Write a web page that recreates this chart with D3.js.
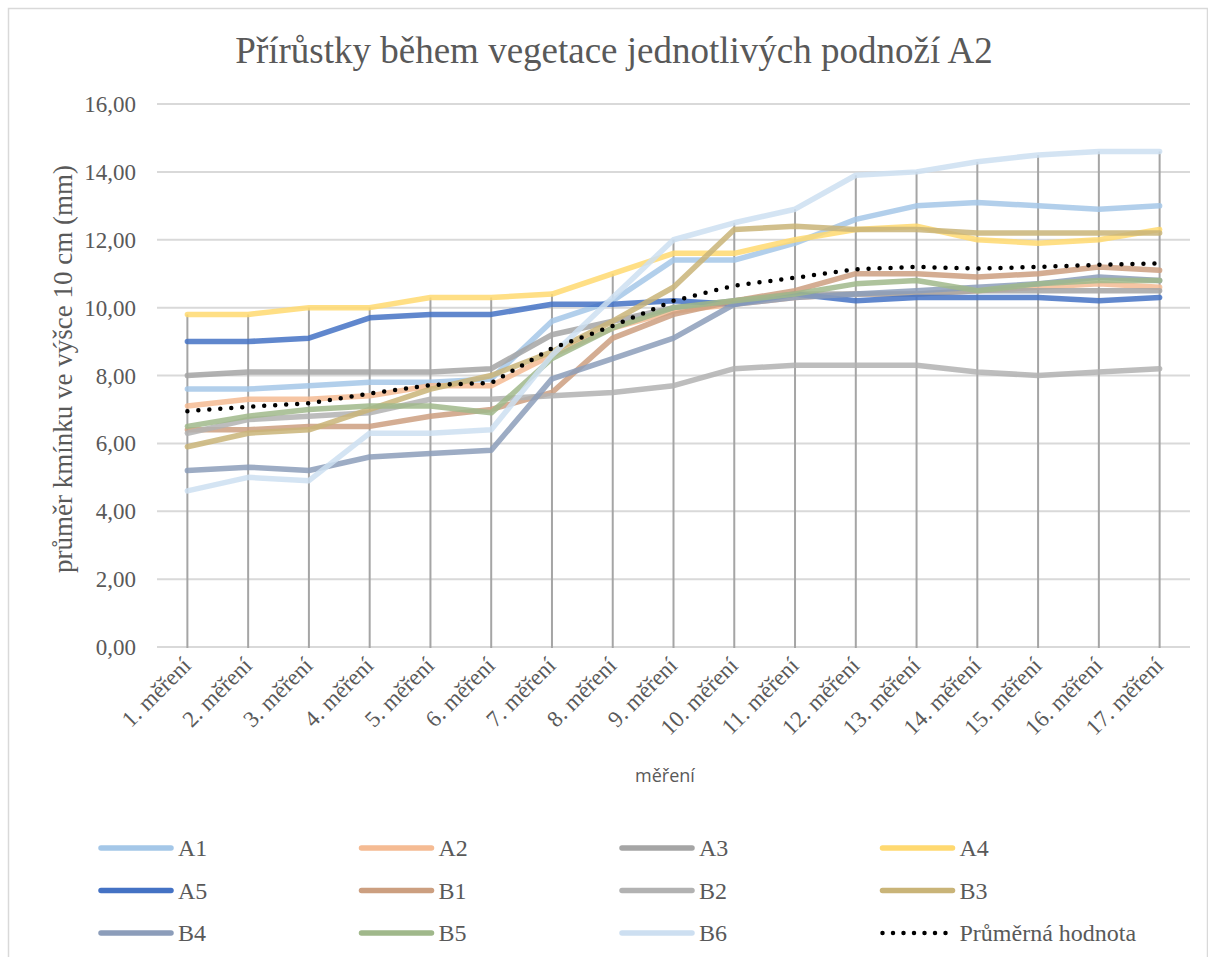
<!DOCTYPE html>
<html>
<head>
<meta charset="utf-8">
<script src="https://cdn.jsdelivr.net/npm/d3@7"></script>
<style>
  body { margin: 0; background: #fff; }
  text { fill: #595959; font-family: "Liberation Serif", "Times New Roman", serif; }
</style>
</head>
<body>
<div id="chart-container"></div>
<script>
'use strict'

var title = 'Přírůstky během vegetace jednotlivých podnoží A2'
var yTitle = 'průměr kmínku ve výšce 10 cm (mm)'
var xTitle = 'měření'

var categories = ['1. měření', '2. měření', '3. měření', '4. měření', '5. měření', '6. měření',
    '7. měření', '8. měření', '9. měření', '10. měření', '11. měření', '12. měření',
    '13. měření', '14. měření', '15. měření', '16. měření', '17. měření']

var yTicks = [0, 2, 4, 6, 8, 10, 12, 14, 16]

var seriesNames = ['A1', 'A2', 'A3', 'A4', 'A5', 'B1', 'B2', 'B3', 'B4', 'B5', 'B6', 'Průměrná hodnota']

var A1 = [7.6, 7.6, 7.7, 7.8, 7.8, 7.9, 9.6, 10.2, 11.4, 11.4, 11.9, 12.6, 13.0, 13.1, 13.0, 12.9, 13.0]
var A2 = [7.1, 7.3, 7.3, 7.4, 7.7, 7.7, 8.6, 9.4, 9.9, 10.1, 10.3, 10.4, 10.4, 10.5, 10.6, 10.7, 10.6]
var A3 = [8.0, 8.1, 8.1, 8.1, 8.1, 8.2, 9.2, 9.6, 10.0, 10.2, 10.4, 10.4, 10.4, 10.5, 10.5, 10.5, 10.5]
var A4 = [9.8, 9.8, 10.0, 10.0, 10.3, 10.3, 10.4, 11.0, 11.6, 11.6, 12.0, 12.3, 12.4, 12.0, 11.9, 12.0, 12.3]
var A5 = [9.0, 9.0, 9.1, 9.7, 9.8, 9.8, 10.1, 10.1, 10.2, 10.1, 10.4, 10.2, 10.3, 10.3, 10.3, 10.2, 10.3]
var B1 = [6.4, 6.4, 6.5, 6.5, 6.8, 7.0, 7.5, 9.1, 9.8, 10.2, 10.5, 11.0, 11.0, 10.9, 11.0, 11.2, 11.1]
var B2 = [6.3, 6.7, 6.8, 6.9, 7.3, 7.3, 7.4, 7.5, 7.7, 8.2, 8.3, 8.3, 8.3, 8.1, 8.0, 8.1, 8.2]
var B3 = [5.9, 6.3, 6.4, 7.0, 7.6, 8.0, 8.7, 9.6, 10.6, 12.3, 12.4, 12.3, 12.3, 12.2, 12.2, 12.2, 12.2]
var B4 = [5.2, 5.3, 5.2, 5.6, 5.7, 5.8, 7.9, 8.5, 9.1, 10.1, 10.3, 10.4, 10.5, 10.6, 10.7, 10.9, 10.8]
var B5 = [6.5, 6.8, 7.0, 7.1, 7.1, 6.9, 8.5, 9.4, 10.0, 10.2, 10.4, 10.7, 10.8, 10.5, 10.7, 10.8, 10.8]
var B6 = [4.6, 5.0, 4.9, 6.3, 6.3, 6.4, 8.6, 10.3, 12.0, 12.5, 12.9, 13.9, 14.0, 14.3, 14.5, 14.6, 14.6]
var avg = [6.95, 7.08, 7.18, 7.47, 7.72, 7.78, 8.8, 9.46, 10.2, 10.65, 10.88, 11.13, 11.2, 11.15, 11.2, 11.26, 11.3]

var colors = ['#a4c7e8', '#f5bb93', '#a5a5a5', '#ffd970', '#4472c4', '#cc9f80',
    '#b2b2b2', '#c9b478', '#8c9dba', '#a0b88b', '#cddff1', '#000000']

var seriesValues = [A1, A2, A3, A4, A5, B1, B2, B3, B4, B5, B6, avg]

var W = 1208, H = 957

var svg = d3.select('#chart-container').append('svg')
    .attr('width', W).attr('height', H)

// chart border
svg.append('rect')
    .attr('x', 8.5).attr('y', 8.5)
    .attr('width', W - 9).attr('height', H)
    .attr('fill', '#fff').attr('stroke', '#d9d9d9').attr('stroke-width', 1.5)

svg.append('text')
    .attr('x', 614).attr('y', 63)
    .attr('text-anchor', 'middle')
    .style('font-size', '37px')
    .text(title)

let x = d3.scalePoint().domain(categories).range([157, 1190]).padding(0.5)
let y = d3.scaleLinear().domain([0, 16]).range([647, 104])

// horizontal gridlines
svg.append('g').selectAll('line').data(yTicks).enter().append('line')
    .attr('x1', 157).attr('x2', 1190)
    .attr('y1', d => y(d)).attr('y2', d => y(d))
    .attr('stroke', '#d9d9d9').attr('stroke-width', 2)

// y tick labels
let fmt = d => d.toFixed(2).replace('.', ',')
svg.append('g').selectAll('text').data(yTicks).enter().append('text')
    .attr('x', 136).attr('y', d => y(d) + 8)
    .attr('text-anchor', 'end')
    .style('font-size', '23px')
    .text(fmt)

// drop lines from highest point down to the axis
svg.append('g').selectAll('line').data(categories).enter().append('line')
    .attr('x1', d => x(d)).attr('x2', d => x(d))
    .attr('y1', 648)
    .attr('y2', (d, i) => y(d3.max(seriesValues, s => s[i])))
    .attr('stroke', '#a5a5a5').attr('stroke-width', 2)

// series lines
let line = d3.line()
    .x((d, i) => x(categories[i]))
    .y(d => y(d))

seriesValues.forEach((vals, k) => {
    let isAvg = k === seriesValues.length - 1
    svg.append('path')
        .datum(vals)
        .attr('d', line)
        .attr('fill', 'none')
        .attr('stroke', colors[k])
        .attr('stroke-width', isAvg ? 4.5 : 5.5)
        .attr('stroke-linecap', 'round')
        .attr('stroke-linejoin', 'round')
        .attr('stroke-opacity', isAvg ? 1 : 0.85)
        .attr('stroke-dasharray', isAvg ? '0 11' : null)
})

// x tick labels, rotated
svg.append('g').selectAll('text').data(categories).enter().append('text')
    .attr('transform', d => 'translate(' + (x(d) + 5) + ',667) rotate(-45)')
    .attr('text-anchor', 'end')
    .style('font-size', '23px')
    .text(d => d)

// axis titles
svg.append('text')
    .attr('transform', 'translate(72,369) rotate(-90)')
    .attr('text-anchor', 'middle')
    .style('font-size', '27px')
    .text(yTitle)

svg.append('text')
    .attr('x', 665).attr('y', 782)
    .attr('text-anchor', 'middle')
    .style('font-family', '"Open Sans", "Noto Sans", sans-serif')
    .style('font-size', '18px')
    .text(xTitle)

// legend: 4 columns x 3 rows
let legend = svg.append('g').selectAll('g').data(seriesNames).enter().append('g')
    .attr('transform', (d, i) => 'translate(' + (101 + (i % 4) * 260.5) + ',' + (848 + Math.floor(i / 4) * 42.5) + ')')

legend.append('line')
    .attr('x1', 0).attr('x2', 70)
    .attr('stroke', (d, i) => colors[i])
    .attr('stroke-width', (d, i) => i === seriesNames.length - 1 ? 4.5 : 5.5)
    .attr('stroke-linecap', 'round')
    .attr('stroke-dasharray', (d, i) => i === seriesNames.length - 1 ? '0 10.5' : null)

legend.append('text')
    .attr('x', 77).attr('y', 8)
    .style('font-size', '24px')
    .text(d => d)
</script>
</body>
</html>
